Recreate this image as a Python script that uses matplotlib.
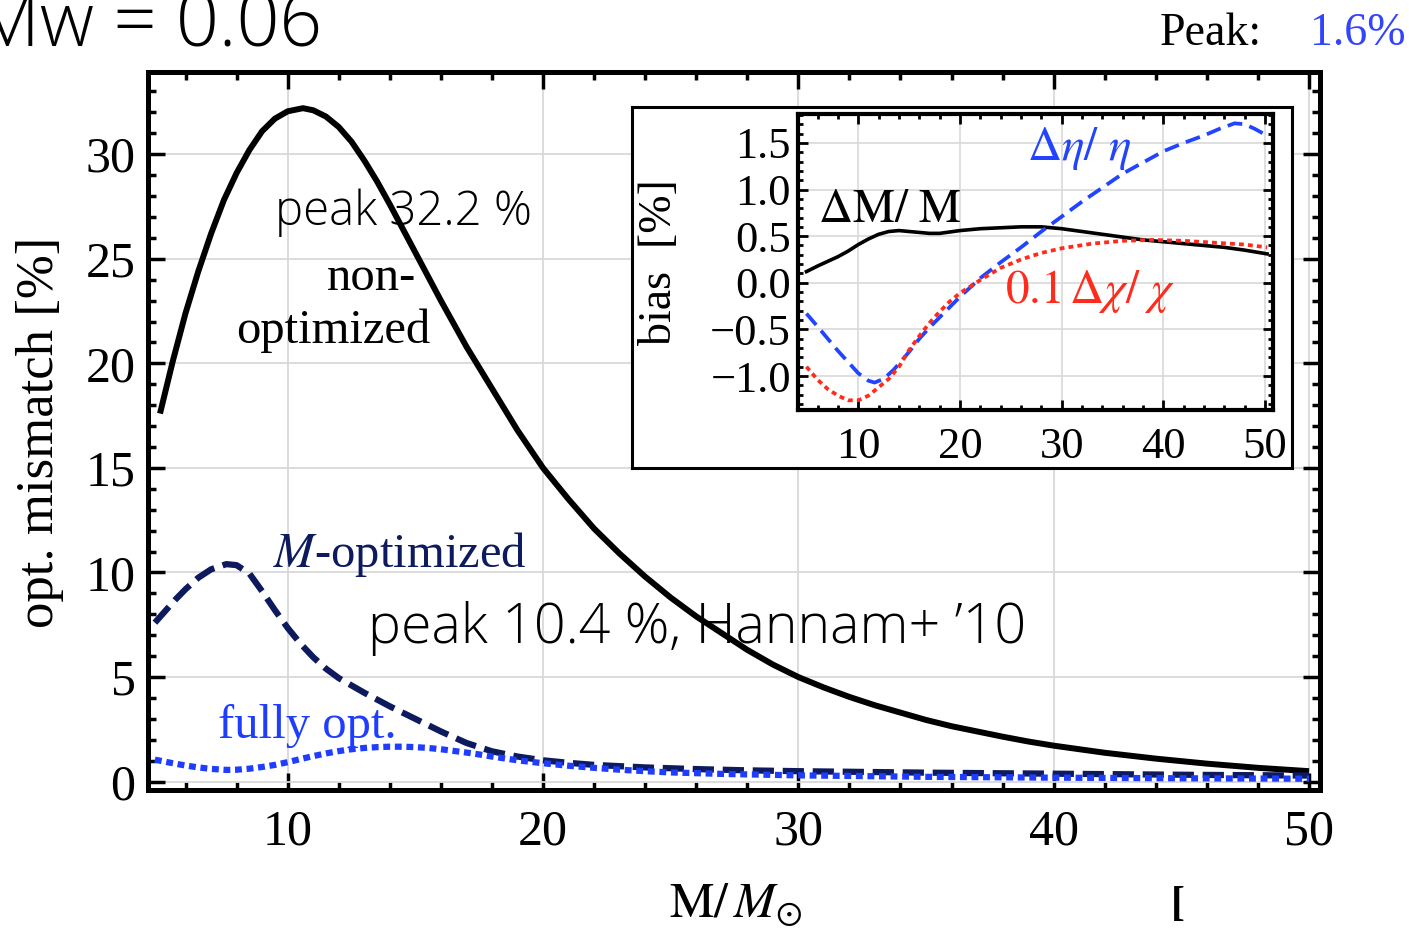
import matplotlib
matplotlib.use('Agg')
import matplotlib.pyplot as plt
from matplotlib.ticker import MultipleLocator, FuncFormatter

plt.rcParams['mathtext.fontset'] = 'stix'
plt.rcParams['font.family'] = ['Liberation Serif', 'DejaVu Serif']

# main panel: optimised mismatch [%] vs total mass
mass_non = [5, 5.5, 6, 6.5, 7, 7.5, 8, 8.5, 9, 9.5, 10, 10.6, 11, 11.5, 12, 12.5, 13,
            13.5, 14, 14.5, 15, 15.5, 16, 16.5, 17, 17.5, 18, 19, 20, 21, 22, 23, 24, 25,
            26, 27, 28, 29, 30, 31, 32, 33, 34, 35, 36, 37, 38, 39, 40, 42, 44, 46, 48, 50]
mm_non = [17.6, 20.1, 22.4, 24.4, 26.2, 27.8, 29.1, 30.2, 31.1, 31.7, 32.05, 32.2, 32.1,
          31.8, 31.3, 30.6, 29.7, 28.7, 27.6, 26.45, 25.3, 24.15, 23.0, 21.9, 20.8, 19.8,
          18.8, 16.8, 15.0, 13.5, 12.1, 10.9, 9.8, 8.8, 7.9, 7.1, 6.3, 5.6, 5.0, 4.5,
          4.05, 3.65, 3.3, 2.95, 2.65, 2.4, 2.15, 1.92, 1.72, 1.38, 1.1, 0.86, 0.66, 0.5]

mass_mopt = [4.8, 5.2, 5.6, 6, 6.5, 7, 7.6, 8, 8.5, 9, 9.5, 10, 10.5, 11, 11.5, 12, 12.5,
             13, 14, 15, 16, 17, 18, 19, 20, 21, 22, 24, 26, 28, 30, 35, 40, 45, 50]
mm_mopt = [7.6, 8.15, 8.7, 9.2, 9.75, 10.15, 10.4, 10.35, 9.95, 9.1, 8.2, 7.35, 6.6,
           5.95, 5.4, 4.95, 4.6, 4.25, 3.6, 3.0, 2.4, 1.85, 1.45, 1.2, 1.02, 0.9, 0.8,
           0.68, 0.6, 0.54, 0.5, 0.43, 0.38, 0.33, 0.29]

mass_full = [4.8, 5.5, 6, 6.5, 7, 7.6, 8, 8.5, 9, 9.5, 10, 10.5, 11, 11.5, 12, 12.5, 13,
             13.5, 14, 14.5, 15, 15.5, 16, 16.5, 17, 17.5, 18, 19, 20, 21, 22, 23, 24,
             25, 27, 30, 35, 40, 45, 50]
mm_full = [1.05, 0.88, 0.77, 0.68, 0.61, 0.56, 0.57, 0.62, 0.7, 0.8, 0.93, 1.08, 1.22,
           1.35, 1.46, 1.55, 1.61, 1.65, 1.67, 1.67, 1.65, 1.61, 1.55, 1.47, 1.39, 1.3,
           1.2, 1.02, 0.88, 0.76, 0.66, 0.57, 0.5, 0.44, 0.37, 0.3, 0.23, 0.19, 0.16, 0.14]

# inset: parameter bias [%]
mass_dm = [4.9, 6, 7, 8, 9, 10, 11, 12, 13, 14, 15, 16, 17, 18, 20, 22, 24, 26, 28, 30,
           32, 34, 36, 38, 40, 42, 44, 46, 48, 50.2]
bias_dm = [0.12, 0.18, 0.23, 0.28, 0.34, 0.41, 0.47, 0.52, 0.55, 0.56, 0.55, 0.54, 0.53,
           0.53, 0.56, 0.58, 0.59, 0.6, 0.6, 0.58, 0.55, 0.52, 0.49, 0.46, 0.44, 0.42,
           0.4, 0.38, 0.35, 0.31]

mass_deta = [4.9, 6, 7, 8, 9, 10, 11, 11.6, 12.5, 13.5, 15, 16, 17, 18, 19, 20, 22, 24,
             26, 28, 30, 32, 34, 36, 38, 40, 42, 44, 45.5, 47, 48, 49, 50]
bias_deta = [-0.33, -0.47, -0.6, -0.73, -0.85, -0.97, -1.05, -1.07, -1.03, -0.93, -0.74,
             -0.6, -0.48, -0.37, -0.26, -0.15, 0.05, 0.22, 0.38, 0.55, 0.71, 0.87, 1.02,
             1.17, 1.29, 1.41, 1.5, 1.58, 1.65, 1.71, 1.7, 1.65, 1.59]

mass_dchi = [4.9, 6, 7, 8, 9, 10, 11, 12, 13, 14, 15, 16, 17, 18, 19, 20, 21, 22, 24,
             26, 28, 30, 33, 36, 39, 42, 45, 48, 50.2]
bias_dchi = [-0.9, -1.04, -1.14, -1.21, -1.26, -1.26, -1.21, -1.12, -1.03, -0.9, -0.72,
             -0.57, -0.43, -0.31, -0.2, -0.11, -0.04, 0.03, 0.16, 0.25, 0.32, 0.37, 0.42,
             0.45, 0.46, 0.45, 0.43, 0.41, 0.38]

main_xticks = [10, 20, 30, 40, 50]
main_yticks = [0, 5, 10, 15, 20, 25, 30]
inset_yticks = [-1.0, -0.5, 0.0, 0.5, 1.0, 1.5]

W, H = 1409, 936


def fx(px):
    return px / W


def fy(py):
    return 1 - py / H


def box(l, t, r, b):
    return [fx(l), fy(b), fx(r) - fx(l), fy(t) - fy(b)]


fig = plt.figure(figsize=(W / 100, H / 100), dpi=100)

# --- main axes ---
ax = fig.add_axes(box(148, 72, 1320, 790))
ax.plot(mass_non, mm_non, color='black', lw=4.3, solid_capstyle='butt',
        solid_joinstyle='round', zorder=3)
ax.plot(mass_mopt, mm_mopt, color='#0d1b5e', lw=4.5, dashes=(3.4, 1.4),
        dash_capstyle='butt', dash_joinstyle='round', zorder=3)
ax.plot(mass_full, mm_full, color='#1f3dff', lw=4.5, dashes=(1.1, 0.75),
        dash_capstyle='butt', dash_joinstyle='round', zorder=3)

ax.set_xlim(4.53, 50.43)
ax.set_ylim(-0.4, 33.93)
ax.set_xticks(main_xticks)
ax.set_yticks(main_yticks)
ax.xaxis.set_minor_locator(MultipleLocator(2))
ax.yaxis.set_minor_locator(MultipleLocator(1))
ax.grid(True, which='major', color='#d9d9d9', lw=1.3)
ax.set_axisbelow(True)
ax.tick_params(which='both', direction='in', top=True, right=True, width=2.5)
ax.tick_params(which='major', length=12)
ax.tick_params(which='minor', length=6)
ax.tick_params(axis='x', labelsize=36, pad=14)
ax.tick_params(axis='y', labelsize=36, pad=9)
for s in ax.spines.values():
    s.set_linewidth(3.6)

sans = dict(family=['Open Sans', 'DejaVu Sans'], fontweight='light')
ax.text(9.5, 26.6, 'peak 32.2 %', fontsize=34, va='baseline', ha='left', zorder=4,
        **sans)
ax.text(13.14, 6.62, 'peak 10.4 %, Hannam+ \u201910', fontsize=40, va='baseline',
        ha='left', zorder=4, **sans)
ax.text(11.53, 23.5, 'non-', fontsize=35, va='baseline', ha='left', zorder=4)
ax.text(8.0, 20.97, 'optimized', fontsize=35, va='baseline', ha='left', zorder=4)
ax.text(9.43, 10.28, r'$M$-optimized', fontsize=35, color='#0d1b5e', va='baseline',
        ha='left', zorder=4)
ax.text(7.28, 2.07, 'fully opt.', fontsize=35, color='#1f3dff', va='baseline',
        ha='left', zorder=4)

fig.text(fx(40), fy(432), 'opt. mismatch [%]', rotation=90, fontsize=38,
         ha='center', va='center')
fig.text(fx(735), fy(905), r'$\mathrm{M}/\,M_{\odot}$', fontsize=36,
         ha='center', va='center')
fig.text(fx(1178), fy(905), '[', fontsize=30, fontweight='bold',
         ha='center', va='center')

# header
fig.text(fx(322), fy(45), 'Mw = 0.06', fontsize=54, ha='right', va='baseline', **sans)
fig.text(fx(1160), fy(45), 'Peak:', fontsize=33, ha='left', va='baseline')
fig.text(fx(1310), fy(45), '1.6%', fontsize=33, ha='left', va='baseline',
         color='#3344ff')

# --- inset frame ---
frame = fig.add_axes(box(632, 107, 1292, 468))
frame.set_xticks([])
frame.set_yticks([])
for s in frame.spines.values():
    s.set_linewidth(2.2)

# --- inset ---
ins = fig.add_axes(box(798, 114, 1273, 410))
ins.plot(mass_dm, bias_dm, color='black', lw=2.6, solid_joinstyle='round', zorder=3)
ins.plot(mass_deta, bias_deta, color='#2244ff', lw=2.7, dashes=(4, 2),
         dash_capstyle='butt', dash_joinstyle='round', zorder=3)
ins.plot(mass_dchi, bias_dchi, color='#ff2b1c', lw=2.7, dashes=(1.3, 1.1),
         dash_capstyle='butt', dash_joinstyle='round', zorder=3)
ins.set_xlim(4.07, 50.78)
ins.set_ylim(-1.364, 1.81)
ins.set_xticks(main_xticks)
ins.set_yticks(inset_yticks)
ins.yaxis.set_major_formatter(FuncFormatter(lambda v, p: f'{v:.1f}'.replace('-', '\u2212')))
ins.xaxis.set_minor_locator(MultipleLocator(2))
ins.yaxis.set_minor_locator(MultipleLocator(0.1))
ins.grid(True, which='major', color='#d9d9d9', lw=1.2)
ins.set_axisbelow(True)
ins.tick_params(which='both', direction='in', top=True, right=True, width=2)
ins.tick_params(which='major', length=7)
ins.tick_params(which='minor', length=3.5)
ins.tick_params(axis='x', labelsize=32, pad=12)
ins.tick_params(axis='y', labelsize=32, pad=5)
for s in ins.spines.values():
    s.set_linewidth(3)

ins.text(6.07, 0.654, r'$\Delta\mathrm{M}/\ \mathrm{M}$', fontsize=34, va='baseline',
         ha='left', zorder=4)
ins.text(26.56, 1.315, r'$\Delta\eta/\ \eta$', fontsize=34, color='#2244ff',
         va='baseline', ha='left', zorder=4)
ins.text(24.42, -0.22, r'$0.1\,\Delta\chi/\ \chi$', fontsize=34, color='#ff2b1c',
         va='baseline', ha='left', zorder=4)
fig.text(fx(660), fy(262), 'bias  [%]', rotation=90, fontsize=33,
         ha='center', va='center')

fig.savefig('out.png', dpi=100)
